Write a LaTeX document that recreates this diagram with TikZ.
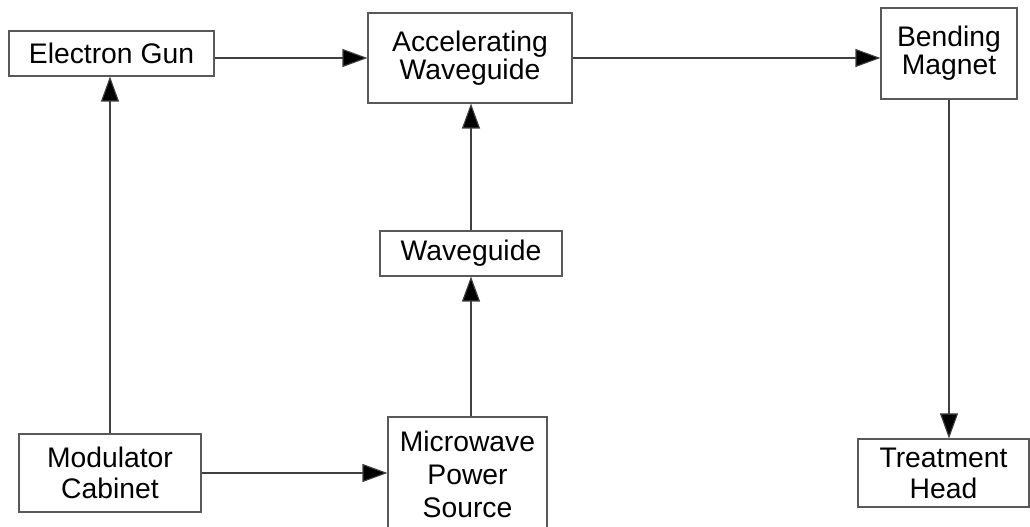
\documentclass[tikz,border=0pt]{standalone}
\usepackage{fontspec}
\setmainfont{Liberation Sans}
\usetikzlibrary{arrows.meta}
\begin{document}
\begin{tikzpicture}[x=1bp,y=-1bp,
  blk/.style={draw=black!65, line width=1.1bp, rectangle, inner sep=0pt, align=center,
    font=\fontsize{28.3bp}{30bp}\selectfont, text=black},
  conn/.style={draw=black!75, line width=1.1bp, -{Triangle[length=25bp,width=18bp,fill=black]}}]
\useasboundingbox (0,0) rectangle (1030,527);
\node[blk, minimum width=205bp, minimum height=45bp] (gun) at (111.5,53.5) {Electron Gun};
\node[blk, minimum width=204bp, minimum height=90bp, font=\fontsize{28.3bp}{28bp}\selectfont] (acc) at (470,58) {Accelerating\\Waveguide};
\node[blk, minimum width=136bp, minimum height=91bp, font=\fontsize{28.3bp}{28bp}\selectfont] (bend) at (949,53.5) {Bending\\Magnet};
\node[blk, minimum width=182bp, minimum height=45bp] (wg) at (471,253.5) {Waveguide};
\node[blk, minimum width=182bp, minimum height=78bp, font=\fontsize{28.3bp}{31bp}\selectfont] (mod) at (110,473) {Modulator\\Cabinet};
\node[blk, minimum width=159bp, minimum height=114bp, font=\fontsize{28.3bp}{33bp}\selectfont] (mw) at (467.5,474) {Microwave\\Power\\Source};
\node[blk, minimum width=171bp, minimum height=68bp, font=\fontsize{28.3bp}{31bp}\selectfont] (treat) at (943.5,473) {Treatment\\Head};
\draw[conn] (gun.east |- acc.west) -- (acc.west);
\draw[conn] (acc.east) -- (acc.east -| bend.west);
\draw[conn] (mod.north) -- (mod.north |- gun.south);
\draw[conn] (mod.east) -- (mod.east -| mw.west);
\draw[conn] (wg.south |- mw.north) -- (wg.south);
\draw[conn] (wg.north) -- (wg.north |- acc.south);
\draw[conn] (bend.south) -- (bend.south |- treat.north);
\end{tikzpicture}
\end{document}
